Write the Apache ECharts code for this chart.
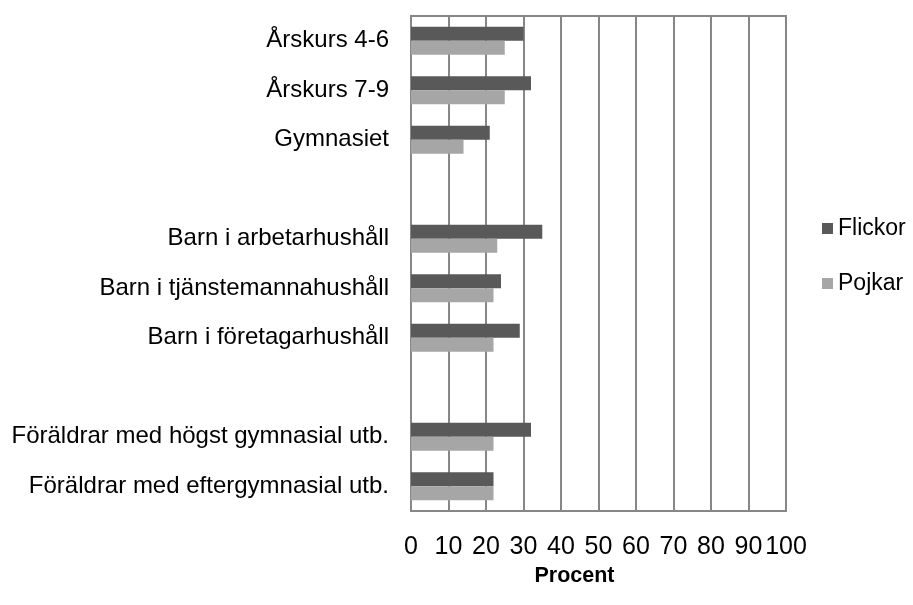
<!DOCTYPE html>
<html>
<head>
<meta charset="utf-8">
<script src="https://cdn.jsdelivr.net/npm/echarts@6/dist/echarts.min.js"></script>
<style>
  html, body { margin: 0; padding: 0; background: #fff; }
  #chart { width: 913px; height: 605px; }
</style>
</head>
<body>
<div id="chart"></div>
<script>
// categories top to bottom, blanks are the group spacers
const categories = [
    'Årskurs 4-6',
    'Årskurs 7-9',
    'Gymnasiet',
    ' ',
    'Barn i arbetarhushåll',
    'Barn i tjänstemannahushåll',
    'Barn i företagarhushåll',
    '  ',
    'Föräldrar med högst gymnasial utb.',
    'Föräldrar med eftergymnasial utb.'
];
const flickor = [30, 32, 21, null, 35, 24, 29, null, 32, 22];
const pojkar = [25, 25, 14, null, 23, 22, 22, null, 22, 22];
const xTicks = { min: 0, max: 100, interval: 10 };

const font = 'Liberation Sans, Arial, sans-serif';
const gridGray = '#878787';
const chart = echarts.init(document.getElementById('chart'));

chart.setOption({
    animation: false,
    grid: {
        left: 411,
        right: 127,
        top: 16,
        bottom: 94,
        containLabel: false,
        outerBoundsMode: 'none',
        show: true,
        borderColor: gridGray,
        borderWidth: 2
    },
    legend: {
        orient: 'vertical',
        left: 817,
        top: 212,
        itemWidth: 11,
        itemHeight: 11,
        itemGap: 32,
        icon: 'rect',
        textStyle: { fontFamily: font, fontSize: 23, color: '#000' },
        data: ['Flickor', 'Pojkar']
    },
    xAxis: {
        type: 'value',
        min: xTicks.min,
        max: xTicks.max,
        interval: xTicks.interval,
        name: 'Procent',
        nameLocation: 'middle',
        nameGap: 43,
        nameTextStyle: {
            fontFamily: font, fontSize: 21.5, fontWeight: 'bold', color: '#000',
            padding: [0, 48, 0, 0]
        },
        axisLine: { show: false },
        axisTick: { show: false },
        axisLabel: { margin: 24, fontFamily: font, fontSize: 25, color: '#000' },
        splitLine: { show: true, lineStyle: { color: gridGray, width: 2 } }
    },
    yAxis: {
        type: 'category',
        inverse: true,
        data: categories,
        axisLine: { show: false },
        axisTick: { show: false },
        axisLabel: {
            margin: 22, fontFamily: font, fontSize: 24, color: '#000',
            padding: [4, 0, 0, 0]
        },
        splitLine: { show: false }
    },
    series: [
        {
            name: 'Flickor',
            type: 'bar',
            data: flickor,
            barWidth: 14,
            barGap: '0%',
            itemStyle: { color: '#595959' }
        },
        {
            name: 'Pojkar',
            type: 'bar',
            data: pojkar,
            barWidth: 14,
            barGap: '0%',
            itemStyle: { color: '#a6a6a6' }
        }
    ]
});
</script>
</body>
</html>
